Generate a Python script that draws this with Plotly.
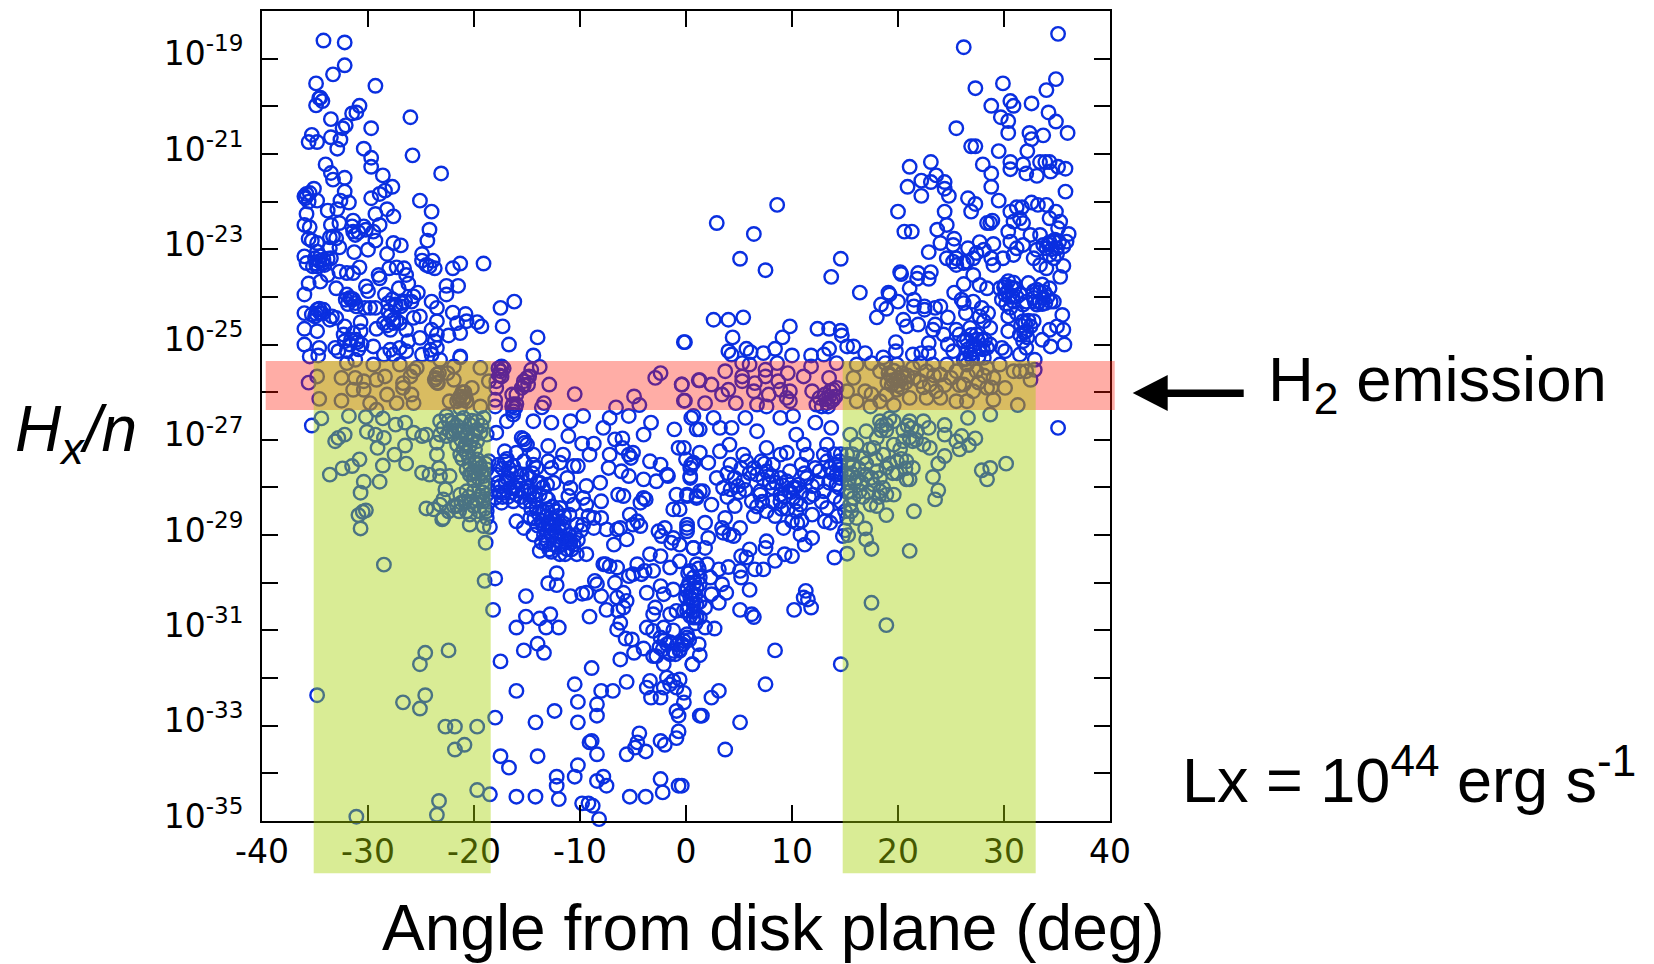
import plotly.graph_objects as go

# Each point: (angle from disk plane in deg, log10 of Hx/n).
upper_left = [(-34.2,-18.62),(-32.2,-18.66),(-32.2,-19.14),(-33.3,-19.33),(-34.9,-19.52),(-29.3,-19.57),(-34.5,-19.82),(-34.9,-19.98),(-34.3,-19.89),(-34.6,-19.83),
(-30.8,-19.99),(-31.5,-20.15),(-31.1,-20.13),(-33.5,-20.27),(-26.0,-20.23),(-32.1,-20.40),(-32.4,-20.46),(-29.7,-20.46),(-35.3,-20.60),(-35.6,-20.75),(-34.8,-20.75),(-33.5,-20.65),(-32.6,-20.70),(-32.9,-20.89),
(-30.4,-20.89),(-29.7,-21.08),(-29.7,-21.27),(-25.8,-21.03),(-34.0,-21.22),(-33.5,-21.40),(-33.3,-21.54),(-32.2,-21.50),(-23.1,-21.41),(-28.6,-21.45),(-35.1,-21.73),(-36.0,-21.89),(-35.8,-21.84),(-35.9,-21.93),(-35.5,-21.82),(-34.8,-21.98),(-35.6,-22.0),
(-32.2,-21.79),(-32.6,-21.98),(-31.8,-22.02),(-29.7,-21.93),(-28.9,-21.84),(-28.4,-21.77),(-27.7,-21.69),(-25.1,-21.98),(-24.0,-22.21),(-28.2,-22.16),(-27.6,-22.31),(-29.3,-22.26),(-35.8,-22.26),(-33.8,-22.19),(-32.9,-22.16),
(-36.0,-22.49),(-35.5,-22.54),(-33.5,-22.49),(-32.7,-22.45),(-31.4,-22.40),(-31.5,-22.52),(-28.9,-22.49),(-30.4,-22.52),(-30.2,-22.59),(-30.9,-22.64),(-29.5,-22.63),(-31.2,-22.70),(-31.4,-22.63),(-24.2,-22.59),(-24.4,-22.82),
(-33.6,-22.75),(-33.3,-22.73),(-33.0,-22.77),(-35.3,-22.82),(-35.6,-22.78),(-34.8,-22.87),(-29.3,-22.82),(-27.6,-22.87),(-26.9,-22.92),(-32.7,-22.96),(-33.6,-22.98),(-31.3,-23.06),(-30.0,-23.01),(-28.2,-23.10),
(-36.0,-23.15),(-35.8,-23.29),(-34.8,-23.05),(-35.0,-23.19),(-34.5,-23.15),(-34.2,-23.22),(-33.5,-23.19),(-34.8,-23.36),(-34.1,-23.33),(-35.2,-23.36),(-24.9,-23.10),(-24.9,-23.24),(-23.9,-23.24),(-24.5,-23.33),(-23.7,-23.40),(-24.2,-23.36),
(-22.0,-23.40),(-21.3,-23.30),(-19.1,-23.30),(-30.8,-23.38),(-32.7,-23.47),(-32.0,-23.5),(-31.4,-23.5),(-28.0,-23.40),(-27.3,-23.38),(-26.6,-23.40),(-29.0,-23.54),(-28.9,-23.61),(-26.4,-23.54),(-34.5,-23.68),(-35.6,-23.72),(-33.8,-23.54),(-33.0,-23.82),(-26.2,-23.72),
(-22.6,-23.77),(-21.5,-23.77),(-22.6,-23.95),(-27.1,-23.82),(-30.2,-23.78),(-30.0,-23.88),(-36.0,-23.95),(-32.0,-23.95),(-31.7,-24.02),(-32.1,-24.06),(-31.2,-24.13),(-31.1,-24.2),(-28.4,-23.95),(-25.3,-23.91),(-25.7,-23.99),(-24.0,-24.1),(-23.5,-24.23),(-25.9,-24.1),
(-16.2,-24.10),(-17.5,-24.23),(-17.3,-24.62),(-16.7,-25.0),(-14.0,-24.85),(-14.4,-25.23),(-22.0,-24.33),(-20.8,-24.36),(-21.6,-24.55),(-20.7,-24.51),(-19.7,-24.53),(-19.3,-24.62),(-21.3,-24.76),(-22.4,-24.81),(-29.8,-24.23),(-29.3,-24.23),(-30.3,-24.23),
(-34.8,-24.27),(-34.2,-24.27),(-36.0,-24.34),(-35.3,-24.37),(-34.5,-24.34),(-35.0,-24.41),(-33.4,-24.41),(-33.0,-24.44),(-33.6,-24.48),(-28.1,-24.13),(-27.4,-24.16),(-26.8,-24.13),(-28.1,-24.3),(-27.6,-24.48),(-28.5,-24.55),(-27.0,-24.55),(-27.9,-24.69),(-29.2,-24.67),(-25.7,-24.44),(-25.1,-24.41),(-23.5,-24.51),
(-30.7,-24.53),(-32.2,-24.62),(-36.0,-24.67),(-34.8,-24.72),(-32.3,-24.79),(-31.4,-24.76),(-30.7,-24.72),(-31.1,-24.90),(-31.7,-25.0),(-30.6,-25.0),(-32.2,-24.93),(-26.4,-24.69),(-25.1,-24.86),(-24.0,-24.69),(-23.5,-24.79),(-23.7,-24.93),(-26.2,-24.93),
(-36.0,-25.0),(-34.6,-25.07),(-35.5,-25.25),(-34.7,-25.23),(-33.1,-25.07),(-32.8,-25.14),(-32.0,-25.14),(-31.2,-25.32),(-29.5,-25.04),(-27.9,-25.11),(-27.0,-25.07),(-28.5,-25.21),(-27.6,-25.21),(-26.4,-25.14),(-24.9,-25.21),(-24.0,-25.21),(-23.5,-25.07),(-23.2,-25.32),(-24.1,-25.11),(-21.3,-25.25),(-21.3,-25.27),(-0.2,-24.95)]

band_left = [(-35.6,-25.80),(-34.8,-25.67),(-34.6,-26.14),(-32.5,-25.70),(-32.5,-26.18),(-32.0,-25.39),(-31.2,-25.70),(-31.4,-25.95),(-30.4,-25.95),(-29.5,-25.42),(-29.2,-25.74),(-28.4,-25.67),(-28.2,-26.05),(-29.8,-26.23),(-29.2,-26.37),(-30.4,-25.77),
(-27.0,-25.42),(-26.7,-25.81),(-26.0,-25.67),(-25.7,-25.56),(-25.4,-25.49),(-23.5,-25.63),(-23.7,-25.74),(-23.4,-25.81),(-21.9,-25.74),(-21.9,-25.46),(-26.7,-25.91),(-25.9,-26.05),(-25.7,-26.23),(-27.3,-26.23),
(-21.3,-26.09),(-21.0,-26.16),(-21.6,-26.19),(-20.7,-26.19),(-20.2,-25.91),(-19.4,-25.49),(-18.6,-25.77),(-22.3,-26.19),(-19.4,-26.30),(-21.3,-26.33),(-17.4,-25.46),(-17.5,-25.56),(-17.4,-25.67),(-17.9,-25.77),(-17.9,-25.91),(-18.0,-26.16),(-18.0,-26.30),
(-13.8,-25.47),(-14.6,-25.53),(-14.8,-25.67),(-15.3,-25.77),(-14.9,-25.84),(-15.5,-25.91),(-16.0,-26.05),(-16.4,-26.05),(-12.9,-25.84),(-10.5,-26.04),(-13.4,-26.23),(-13.6,-26.32),(-16.4,-26.30),(-16.1,-26.33),(-2.4,-25.60),(-2.9,-25.70),(-0.4,-25.84),(1.2,-25.75),(-4.9,-26.09),(-4.4,-26.27),(-6.6,-26.32),(-0.2,-26.18)]

lower_left = [(-35.3,-26.70),(-34.4,-26.55),(-31.8,-26.50),(-30.2,-26.52),(-28.6,-26.55),(-30.1,-26.83),(-29.3,-26.89),(-28.5,-26.96),(-32.2,-26.89),(-32.8,-26.96),(-33.1,-27.03),(-29.1,-27.17),(-26.5,-27.12),(-27.5,-27.31),(-26.4,-27.50),(-28.6,-27.54),
(-30.8,-27.41),(-31.5,-27.55),(-32.4,-27.60),(-33.6,-27.73),(-30.4,-27.88),(-28.9,-27.88),(-30.7,-28.11),(-30.2,-28.48),(-30.5,-28.51),(-30.9,-28.58),(-30.7,-28.86),(-27.4,-26.68),(-26.5,-26.64),(-25.7,-26.85),(-24.9,-26.92),(-24.5,-26.89),(-23.5,-27.31),(-24.2,-27.73),(-24.9,-27.69),(-23.3,-27.59),(-23.2,-27.76),(-22.3,-27.76),
(-23.2,-26.61),(-22.6,-26.50),(-22.0,-26.64),(-22.9,-26.75),(-22.3,-26.82),(-21.6,-26.71),(-21.0,-26.54),(-20.4,-26.68),(-19.7,-26.61),(-19.1,-26.54),(-23.2,-26.89),(-22.6,-26.92),(-22.0,-26.89),(-21.3,-26.82),(-20.7,-26.96),(-20.0,-26.89),(-19.4,-26.85),(-18.8,-26.89),(-21.6,-27.10),(-21.0,-27.20),(-20.4,-27.13),(-19.7,-27.03),(-21.3,-27.31),(-20.7,-27.27),(-23.5,-27.06),
(-19.7,-27.41),(-20.4,-27.52),(-19.4,-27.59),(-20.0,-27.66),(-18.8,-27.62),(-19.1,-27.76),(-20.4,-27.73),(-18.6,-27.45),(-19.6,-27.80),(-20.7,-27.62),
(-22.7,-28.04),(-20.7,-28.08),(-20.0,-28.08),(-19.0,-27.97),(-19.4,-28.18),(-21.3,-28.15),(-22.9,-28.25),(-21.9,-28.39),(-21.6,-28.39),(-23.2,-28.36),(-24.5,-28.44),(-23.8,-28.46),(-20.0,-28.39),(-19.1,-28.29),(-20.4,-28.57),(-18.8,-28.50),(-22.4,-28.50),(-23.0,-28.67),(-20.4,-28.78),(-19.1,-28.81),(-18.5,-28.83),(-18.8,-28.64),(-22.9,-28.64),(-21.2,-28.32),
(-18.9,-29.16),(-19.0,-29.96),(-18.0,-29.91),(-18.2,-30.57),(-28.5,-29.62),(-22.4,-31.42),(-24.6,-31.47),(-25.1,-31.71),(-34.8,-32.36),(-24.6,-32.36),(-26.7,-32.51),(-25.1,-32.64),(-22.7,-33.02),(-21.8,-33.02),(-19.7,-33.02),(-20.9,-33.40),(-21.8,-33.50),(-18.0,-32.83),(-19.7,-34.35),(-18.5,-34.44),(-23.3,-34.58),(-23.5,-34.87),(-31.1,-34.91)]

lower_middle_left = [(-17.5,-31.65),(-15.3,-31.42),(-14.0,-31.28),(-13.4,-31.47),(-16.0,-30.94),(-15.1,-30.71),(-13.8,-30.75),(-12.8,-30.66),(-13.2,-30.94),(-12.0,-30.94),(-15.1,-30.28),(-9.1,-30.71),(-10.9,-30.28),(-9.8,-30.23),(-9.4,-30.21),
(-16.0,-32.27),(-17.5,-33.64),(-16.7,-33.88),(-16.0,-34.49),(-14.2,-34.49),(-14.2,-32.93),(-14.0,-33.64),(-12.4,-32.69),(-12.2,-34.07),(-12.2,-34.26),(-12.0,-34.54),(-10.5,-32.13),(-10.2,-32.50),(-10.2,-32.93),(-8.9,-31.79),(-8.0,-32.27),(-6.9,-32.27),(-5.6,-32.08),(-8.4,-32.55),(-8.4,-32.79),(-8.9,-33.32),(-9.1,-33.35),(-8.4,-33.60),(-10.2,-33.83),(-10.5,-34.07),(-8.4,-34.16),(-7.8,-34.07),(-7.5,-34.26),(-9.8,-34.63),(-9.2,-34.63),(-8.8,-34.68),(-8.2,-34.96),
(-5.6,-33.60),(-4.4,-33.16),(-4.6,-33.35),(-4.8,-33.46),(-3.8,-33.54),(-5.3,-34.49),(-3.8,-34.49),(-2.4,-34.12),(-2.2,-34.40),(-0.7,-34.26),(-2.4,-33.32),(-2.0,-33.40),(-0.7,-33.12),(-0.9,-33.26),(-0.9,-32.69),(-0.7,-32.79),(-0.2,-32.51),(1.3,-32.79),
(-6.2,-31.61),(-4.9,-31.47),(-4.0,-31.38),(0.6,-31.71),(-5.1,-31.19),(-5.7,-31.17),(-3.4,-32.06),(-3.7,-32.20),(-3.3,-32.41),(-1.8,-31.99),(-2.4,-32.41),(-1.2,-32.06),(-0.6,-32.03),(-0.2,-32.31),(-2.1,-32.20),(-0.9,-32.20),(-1.5,-32.13),
(-3.7,-30.94),(-3.1,-31.01),(-2.4,-31.15),(-1.8,-31.29),(-1.2,-31.43),(-0.6,-31.40),(0.1,-31.08),(-2.8,-31.54),(-2.1,-31.71),(-1.5,-31.50),(-0.2,-31.22),(-3.1,-31.54),(-6.2,-30.84),(-6.5,-30.98),
(-7.5,-30.57),(-6.4,-30.59),(-5.9,-30.52),(-5.6,-30.38),(-6.5,-30.31),(-5.9,-30.21),(-8.0,-30.28),(-7.2,-29.65),(-6.7,-30.0),(-8.6,-29.96),(-8.4,-30.03),(-13.0,-30.01),(-12.2,-30.05),(-12.2,-29.80),(-5.4,-29.86),(-7.6,-29.61),(-6.5,-29.68),
(-4.6,-29.61),(-3.4,-29.40),(-2.4,-29.44),(-3.9,-29.75),(-3.1,-29.75),(-4.2,-29.82),(-5.0,-29.82),(-3.7,-30.21),(-2.4,-30.07),(-2.1,-30.24),(-2.9,-30.52),(-1.2,-30.14),(-0.9,-30.59),(-0.2,-30.59),(0.4,-30.31),(1.0,-30.45),(0.7,-29.89),(1.3,-30.03),(0.1,-30.10),(-3.1,-30.66),(-2.1,-30.94),(-1.5,-30.66),(1.0,-30.73),
(0.2,-29.8),(0.8,-30.0),(1.2,-29.7),(0.5,-30.2),(1.0,-30.1),(0.2,-30.5),(0.7,-30.6),(1.3,-30.4)]

dense_left = [(-17.9,-26.85),(-16.9,-26.61),(-16.3,-26.47),(-14.4,-26.61),(-12.7,-26.64),(-11.1,-26.92),(-10.9,-26.61),(-9.7,-26.50),(-7.2,-26.54),(-5.4,-26.50),(-3.3,-26.64),(-4.0,-26.89),(-7.8,-26.75),(-1.1,-26.78),(0.7,-26.50),(1.0,-26.78),(-0.7,-27.17),(-6.0,-26.97),(-6.7,-26.99),(-8.7,-27.08),(-9.8,-27.08),(-7.2,-27.31),(-9.1,-27.31),(-10.2,-27.55),(-7.3,-27.59),(-13.0,-27.13),(-11.6,-27.31),
(-15.3,-26.99),(-15.2,-27.06),(-15.0,-27.10),(-15.5,-26.96),(-17.1,-27.24),(-16.0,-27.27),(-14.4,-27.31),(-17.7,-27.52),(-17.1,-27.45),(-16.3,-27.55),(-15.3,-27.45),(-14.4,-27.52),(-13.0,-27.45),(-12.7,-27.59),(-11.9,-27.48),(-10.6,-27.55),
(-17.9,-27.73),(-16.9,-27.80),(-16.0,-27.69),(-15.0,-27.73),(-14.1,-27.59),(-13.8,-27.90),(-13.1,-27.94),(-12.5,-27.90),(-11.2,-27.80),(-10.9,-28.01),(-9.4,-27.97),(-8.1,-27.90),(-9.7,-28.22),(-8.0,-28.29),(-9.4,-28.36),(-11.1,-28.18),(-10.6,-28.36),(-8.7,-28.64),(-9.7,-28.78),(-8.0,-28.64),
(-17.5,-27.97),(-17.2,-28.11),(-16.6,-28.01),(-16.0,-28.15),(-15.3,-28.08),(-18.0,-28.22),(-17.4,-28.32),(-16.3,-28.29),(-14.7,-28.29),(-14.1,-28.43),(-13.5,-28.50),(-12.8,-28.64),(-12.2,-28.50),(-13.8,-28.15),(-13.0,-28.25),(-11.9,-28.43),(-11.0,-28.57),(-10.3,-28.78),(-14.7,-28.64),(-16.0,-28.71),(-15.3,-28.85),(-14.4,-28.99),(-13.5,-28.78),(-12.8,-28.92),(-11.9,-28.92),(-11.1,-29.09),(-10.6,-29.20),(-13.1,-29.13),(-13.8,-29.33),(-11.9,-29.40),(-9.4,-29.40),(-10.3,-29.40),(-8.7,-28.85),(-7.5,-28.88),(-6.5,-28.88),(-6.2,-28.85),(-5.6,-29.09),(-6.8,-29.20),(-7.8,-29.61),
(-13.2,-28.6),(-13.0,-28.8),(-12.7,-29.0),(-12.4,-28.7),(-12.2,-29.1),(-12.0,-28.8),(-11.7,-29.2),(-11.4,-28.9),(-11.2,-29.3),(-13.4,-29.0),(-13.6,-29.15),(-12.9,-29.3),(-12.5,-29.2),(-11.0,-29.0),(-10.8,-29.3),(-12.1,-28.6),(-12.6,-28.4),(-11.5,-28.6),
(-17.6,-28.1),(-17.0,-27.9),(-16.8,-28.2),(-16.5,-27.7),(-16.2,-28.0),(-15.8,-27.9),(-15.6,-28.2),(-15.0,-28.0),(-14.7,-27.8),(-14.3,-28.1),(-14.0,-27.9),(-13.5,-28.0),(-13.2,-28.2),(-17.3,-27.6),(-16.9,-27.4),
(-6.0,-27.17),(-5.4,-27.31),(-5.0,-27.27),(-5.2,-27.38),(-3.4,-27.45),(-6.1,-27.66),(-5.4,-27.76),(-4.0,-27.83),(-2.8,-27.87),(-1.7,-27.76),(-1.8,-27.73),(-2.4,-27.52),(0.0,-27.41),(0.7,-27.48),(0.4,-27.76),(0.4,-27.59),
(-6.4,-28.15),(-5.9,-28.18),(-4.0,-28.22),(-3.8,-28.25),(-4.3,-28.32),(-0.9,-28.15),(0.1,-28.15),(1.0,-28.22),(1.3,-28.08),(-1.2,-28.46),(-0.6,-28.46),(-5.3,-28.57),(-4.6,-28.71),(-4.3,-28.81),(-5.0,-28.78),(-2.0,-28.85),(-2.6,-28.92),(-2.3,-29.02),(0.1,-28.78),(0.1,-28.92),(-1.2,-29.06),(-0.6,-29.20),(-1.4,-29.16),(0.7,-29.27),(-0.6,-29.55),(-1.5,-29.68),(1.0,-29.61)]

upper_right = [(35.1,-18.48),(26.2,-18.76),(29.9,-19.52),(27.3,-19.62),(34.9,-19.43),(34.0,-19.66),(28.8,-19.99),(30.6,-19.89),(30.9,-19.99),(32.6,-19.94),(34.2,-20.13),(29.7,-20.23),(30.4,-20.31),(34.9,-20.32),(25.5,-20.46),(30.4,-20.56),(32.4,-20.56),(33.7,-20.61),(36.0,-20.56),(32.6,-20.69),
(26.9,-20.84),(27.3,-20.84),(29.5,-20.94),(32.2,-20.94),(21.1,-21.27),(23.1,-21.17),(28.0,-21.22),(30.6,-21.17),(30.6,-21.32),(31.8,-21.22),(33.4,-21.17),(33.9,-21.17),(34.3,-21.17),(35.1,-21.27),(35.8,-21.31),(34.4,-21.37),(32.1,-21.41),(33.1,-21.46),(28.8,-21.41),
(23.6,-21.45),(22.2,-21.56),(23.1,-21.59),(24.4,-21.59),(24.4,-21.73),(24.8,-21.88),(20.9,-21.69),(22.2,-21.88),(28.8,-21.69),(35.8,-21.79),(26.6,-21.93),(27.3,-22.05),(26.9,-22.21),(29.5,-21.98),(20.0,-22.21),(24.4,-22.21),
(31.2,-22.12),(31.7,-22.12),(30.6,-22.21),(32.6,-22.02),(33.2,-22.07),(34.0,-22.07),(34.9,-22.21),(34.3,-22.35),(35.3,-22.42),(35.1,-22.56),(30.9,-22.42),(31.8,-22.45),(31.5,-22.35),(28.4,-22.45),(28.7,-22.45),(28.9,-22.40),
(24.6,-22.49),(23.7,-22.59),(20.6,-22.63),(21.3,-22.63),(24.0,-22.87),(25.3,-22.78),(22.9,-23.06),(30.4,-22.63),(36.1,-22.68),(32.5,-22.70),(33.4,-22.70),(25.2,-22.91),(26.6,-22.98),(27.7,-22.85),(29.0,-22.89),
(24.6,-23.19),(25.5,-23.33),(27.1,-23.19),(26.5,-23.26),(27.4,-23.08),(28.1,-23.01),(26.2,-23.29),(25.5,-23.19),(25.2,-23.26),(29.0,-23.33),(28.8,-23.19),(29.9,-23.19),(30.6,-22.84),(31.2,-22.98),(31.8,-22.91),(30.9,-23.12),(33.1,-23.01),
(34.0,-22.98),(34.7,-22.84),(35.0,-22.98),(35.6,-22.94),(35.9,-22.84),(34.3,-23.12),(33.4,-23.33),(34.0,-23.40),(35.6,-23.35),(35.3,-23.58),(32.8,-23.19),(34.7,-23.19),(33.7,-22.91),
(20.2,-23.48),(20.3,-23.52),(21.9,-23.50),(21.8,-23.62),(21.1,-23.82),(23.1,-23.48),(22.9,-23.62),(16.4,-23.91),(14.6,-23.20),(13.7,-23.58),(8.6,-22.07),(2.9,-22.45),(6.4,-22.68),(5.1,-23.20),(7.5,-23.44),
(19.1,-23.91),(19.2,-23.95),(20.0,-24.1),(18.4,-24.16),(18.9,-24.25),(18.0,-24.43),(21.5,-24.06),(21.5,-24.20),(22.5,-24.20),(22.5,-24.27),(23.5,-24.23),(24.0,-24.20),(24.7,-24.43),
(26.2,-23.73),(27.1,-23.54),(25.3,-23.91),(26.0,-24.06),(26.2,-24.13),(27.1,-24.10),(27.7,-23.75),(28.4,-23.82),(27.9,-24.23),(28.5,-24.34),(26.4,-24.34),(27.7,-24.41),
(29.6,-23.82),(30.4,-23.67),(31.0,-23.82),(30.1,-23.95),(30.9,-24.10),(31.5,-23.95),(32.3,-23.71),(32.8,-23.88),(33.6,-23.74),(34.3,-23.82),(34.7,-24.1),(33.7,-24.02),(33.1,-24.16),(33.9,-24.13),(30.6,-24.23),(29.8,-24.06),(31.2,-24.34),(32.1,-24.1),(32.8,-24.02),(30.1,-23.75),(31.8,-24.16),
(35.5,-24.38),(35.7,-25.0),(34.4,-25.04),(35.6,-24.69),(35.0,-24.62),(34.3,-24.69),(33.6,-24.90),(30.4,-24.41),(30.4,-24.72),(31.8,-24.51),(32.5,-24.62),(32.1,-24.72),(31.5,-24.79),(31.8,-24.93),(32.8,-24.51),(32.1,-25.07),(29.8,-25.07),(30.1,-25.14),(31.5,-25.21),(32.9,-25.32),
(20.5,-24.48),(20.8,-24.62),(21.9,-24.58),(23.5,-24.58),(23.3,-24.69),(24.3,-24.79),(25.5,-24.69),(25.8,-24.79),(24.7,-25.0),(22.9,-24.97),(26.8,-24.65),(27.4,-24.79),(28.1,-24.51),(28.7,-24.65),(27.7,-25.07),(26.2,-24.93),(27.1,-25.0),(28.4,-25.07),(26.8,-25.21),(28.1,-25.28),(28.7,-25.0),(26.2,-25.32),(25.2,-25.14),
(19.8,-24.95),(19.8,-25.14),(18.6,-25.27),(21.4,-25.21),(22.2,-25.18),(22.9,-25.18),(2.6,-24.48),(4.0,-24.48),(5.4,-24.43),(9.8,-24.62),(9.1,-24.85),(4.4,-24.85),(12.4,-24.67),(13.5,-24.67),(14.6,-24.71),(14.7,-24.81),(-0.1,-24.95),
(4.0,-25.14),(4.3,-25.21),(5.7,-25.09),(6.1,-25.16),(7.3,-25.18),(8.4,-25.09),(10.0,-25.23),(11.8,-25.23),(13.5,-25.09),(13.0,-25.21),(15.2,-25.04),(15.8,-25.04),(16.9,-25.18)]

band_right = [(3.7,-25.56),(1.3,-25.75),(2.4,-25.84),(4.0,-25.95),(3.4,-26.05),(1.8,-26.23),(4.7,-26.23),(-0.1,-26.18),(-0.4,-25.84),(5.3,-25.39),(6.0,-25.42),(5.3,-25.67),(5.3,-25.77),(7.5,-25.53),(7.5,-25.67),(8.6,-25.39),(9.6,-25.60),(11.1,-25.67),(11.8,-25.46),(13.5,-25.70),(11.9,-25.98),(9.8,-25.98),(8.7,-25.77),(6.5,-25.81),(6.4,-25.98),(7.8,-26.05),(8.9,-25.95),(9.5,-26.12),(6.7,-26.26),(7.6,-26.30),(9.8,-26.19),(14.2,-25.39),
(12.3,-26.26),(12.6,-26.12),(13.1,-26.05),(13.6,-25.98),(14.1,-26.09),(13.3,-26.23),(14.2,-25.91),(12.8,-26.30),(13.7,-26.19),
(16.1,-25.42),(15.8,-25.70),(15.2,-25.98),(17.5,-25.39),(18.3,-25.56),(16.9,-25.98),(17.5,-26.04),(16.1,-26.19),(17.4,-26.30),(18.3,-26.19),(18.9,-26.05),(19.6,-26.27),(18.8,-25.39),(19.9,-25.42),
(19.1,-25.6),(19.6,-25.55),(20.0,-25.7),(20.4,-25.6),(20.7,-25.8),(19.4,-25.85),(19.9,-25.95),(20.3,-25.9),(20.9,-25.65),(19.0,-25.8),
(21.4,-25.49),(22.1,-25.39),(22.7,-25.56),(23.3,-25.42),(24.0,-25.63),(22.1,-25.77),(23.0,-25.84),(23.6,-25.98),(24.6,-25.42),(25.5,-25.56),(26.5,-25.42),(27.4,-25.56),(28.4,-25.49),(29.0,-25.70),(26.2,-25.84),(27.1,-25.98),(28.4,-25.91),(30.1,-25.91),(29.0,-26.16),(26.5,-26.19),(25.5,-26.19),(24.0,-26.12),(22.7,-26.12),(21.1,-26.12),(30.9,-25.56),(31.5,-25.56),(32.1,-25.56),(32.5,-25.74),(31.3,-26.27),(29.6,-25.42),(32.9,-25.53),
(21.5,-25.7),(22.4,-25.9),(23.4,-25.65),(24.4,-25.85),(25.0,-25.7),(25.8,-25.85),(26.6,-25.65),(27.6,-25.8),(28.1,-25.65),(28.8,-25.9)]

lower_right = [(35.1,-26.75),(30.2,-27.50),(28.7,-27.59),(27.9,-27.64),(28.4,-27.83),(28.7,-26.47),(26.6,-26.54),(27.3,-26.97),(26.0,-26.92),(25.5,-27.03),(25.8,-27.20),(26.7,-27.11),(24.4,-26.69),(24.4,-26.89),(24.4,-27.34),(23.8,-27.50),(23.3,-27.78),(23.8,-28.06),(23.5,-28.25),(21.5,-28.50),(21.1,-29.33),(18.9,-28.58),(16.9,-28.86),(17.0,-29.09),(17.5,-29.29),(15.2,-29.39),(14.0,-29.47),
(17.5,-30.42),(18.9,-30.89),(14.6,-31.71),(8.4,-31.42),(7.5,-32.13),(3.1,-32.27),(2.4,-32.41),(1.5,-32.79),(5.1,-32.93),(3.7,-33.50),(-0.4,-34.26),(10.2,-30.57),(11.8,-30.52),(11.3,-30.17),(11.1,-30.31),(11.5,-30.35),(6.4,-30.72),(6.2,-30.66),(5.1,-30.57),(6.0,-30.15),
(2.7,-30.96),(1.8,-30.94),(1.2,-31.29),(1.3,-31.52),(0.6,-31.71),(0.1,-31.15),(-0.4,-31.29),(-0.6,-31.43),(0.1,-30.17),(0.7,-30.45),(1.3,-30.73),(1.8,-30.52),(0.7,-30.73),(0.1,-30.59),(1.3,-29.89),(2.3,-29.89),(3.4,-30.03),(3.1,-30.42),(3.8,-30.21),(2.4,-30.24),(0.4,-29.75),(2.0,-29.61),
(4.0,-29.67),(3.1,-29.72),(5.1,-29.75),(5.2,-29.89),(6.5,-29.72),(7.3,-29.72),(5.2,-29.44),(6.0,-29.30),(5.7,-29.47),(8.4,-29.54),(9.3,-29.40),(10.0,-29.44),(7.6,-29.13),(7.5,-29.27),
(1.8,-28.74),(0.1,-28.85),(2.1,-29.06),(1.8,-29.27),(0.7,-29.27),(3.7,-28.64),(3.4,-28.85),(4.1,-28.99),(5.1,-28.85),(4.5,-29.02),(3.5,-28.95),
(0.1,-28.18),(1.0,-28.18),(1.6,-28.08),(2.4,-28.36),(4.6,-28.39),(6.4,-28.60),(6.2,-28.29),(7.0,-28.15),(8.9,-28.29),(7.6,-28.50),(8.4,-28.60),(9.2,-28.85),(10.4,-28.50),(10.8,-28.99),(11.9,-29.06),(11.2,-29.20),(13.1,-28.71),(13.6,-28.74),(14.8,-29.02),(11.9,-28.57),
(0.4,-27.80),(0.5,-27.52),(1.3,-27.27),(2.1,-27.48),(-0.2,-27.17),(0.5,-26.54),(1.3,-26.78),(2.6,-26.54),(3.2,-26.75),(4.3,-26.75),(5.6,-26.54),(6.7,-26.82),(8.9,-26.54),(10.1,-26.50),(12.2,-26.64),(13.7,-26.75),(10.4,-26.89),(11.1,-27.10),(3.2,-27.24),(4.1,-27.10),(7.6,-27.17),(8.9,-27.31),(9.5,-27.27),(11.4,-27.31),(13.3,-27.10),(13.0,-27.31),
(4.2,-27.52),(5.4,-27.31),(6.4,-27.59),(7.6,-27.66),(8.9,-27.80),(9.5,-27.87),(10.1,-28.01),(11.4,-27.80),(12.6,-27.66),(13.6,-27.59),(14.2,-27.73),(2.9,-27.80),(3.5,-28.01),(4.2,-28.04),(4.9,-27.97),(5.4,-27.87),(7.0,-28.08),(8.2,-28.01),(10.1,-28.22),(10.8,-28.36),(12.0,-28.15),(13.0,-28.08),(13.3,-28.43),(14.2,-27.94),(13.3,-27.45),(12.2,-27.59),(10.9,-27.52),(9.8,-27.66),(8.2,-27.52),(7.1,-27.45),(5.7,-27.45),(10.6,-27.94),(9.7,-28.08),(8.9,-28.15),(6.7,-27.73),(7.3,-27.83),(8.1,-27.76),(11.9,-27.97),(14.1,-27.52),(14.5,-27.45),(14.5,-27.62),(14.5,-27.80),
(15.5,-26.89),(16.1,-27.10),(17.0,-26.82),(18.3,-26.61),(18.9,-26.68),(18.0,-26.96),(19.6,-26.61),(21.1,-26.61),(21.8,-26.82),(22.4,-26.61),(22.9,-26.75),(15.2,-27.31),(15.8,-27.52),(16.7,-27.38),(17.7,-27.17),(18.6,-27.31),(19.6,-27.10),(20.5,-27.03),(21.4,-27.03),(22.4,-27.10),(23.0,-27.17),(15.2,-27.73),(16.1,-27.80),(17.0,-27.73),(18.0,-27.66),(18.9,-27.59),(19.9,-27.45),(20.8,-27.45),(21.4,-27.59),(20.8,-27.83),(21.1,-27.83),(15.5,-28.08),(16.4,-28.08),(17.7,-27.94),(18.6,-28.01),(19.6,-28.15),(17.4,-28.36),(18.0,-28.39),(15.5,-28.36),(15.2,-28.64),(16.1,-28.64),(15.8,-28.22),(18.3,-28.08),(18.9,-28.15),(15.0,-28.9),(15.3,-29.0),(15.0,-28.5)]

# Points packed into the darkest knots of the cloud, estimated from the density seen there.
knots_left = [(-22.4,-26.6),(-21.8,-26.8),(-21.2,-26.6),(-20.9,-26.8),(-20.2,-26.6),(-20.6,-26.9),(-19.8,-26.8),(-19.3,-26.7),(-21.2,-27.0),(-20.8,-27.1),(-20.2,-27.0),(-19.9,-27.2),(-20.5,-27.35),(-21.1,-27.4),(-19.5,-27.5),(-19.9,-27.5),(-20.2,-27.7),(-19.8,-27.7),(-19.3,-27.7),(-18.9,-27.5),(-20.0,-27.85),(-19.2,-27.9),(-20.5,-28.2),(-20.2,-28.3),(-19.7,-28.25),(-19.2,-28.1),(-18.8,-28.15),(-20.9,-28.3),(-21.4,-28.5),(-20.7,-28.5),(-19.5,-28.5),(-19.0,-28.45),(-18.6,-28.3),
(-17.7,-27.9),(-17.3,-28.2),(-16.7,-27.6),(-16.4,-28.1),(-15.9,-28.05),(-15.5,-27.75),(-15.2,-28.3),(-14.8,-28.15),(-14.5,-27.7),(-14.2,-28.25),(-13.9,-28.55),(-13.6,-28.7),(-13.3,-28.85),(-13.1,-28.45),(-12.9,-28.75),(-12.6,-28.8),(-12.3,-28.95),(-12.1,-29.25),(-11.8,-29.05),(-11.6,-28.75),(-11.3,-29.15),(-10.9,-29.15),(-10.5,-29.0),(-10.2,-29.1),(-13.2,-29.2),(-12.7,-29.35),(-11.4,-29.4),(-9.9,-28.9),(-9.2,-28.6),(-14.0,-28.8),(-14.3,-28.65),(-14.6,-28.45),
(0.3,-30.0),(0.6,-30.35),(0.9,-30.25),(0.0,-30.3),(0.4,-30.7),(0.9,-30.85),(-0.3,-31.3),(0.3,-31.2),(-0.8,-31.3),(-1.0,-31.5),(-1.5,-31.25),(-1.2,-31.0),(-2.0,-31.2),(-2.2,-31.4),(-2.5,-31.35),
(-33.8,-23.2),(-34.3,-23.3),(-34.6,-23.25),(-34.9,-23.3),(-34.3,-24.35),(-34.6,-24.25),(-34.9,-24.35),(-31.6,-24.05),(-31.9,-24.15),(-31.4,-24.05),(-31.6,-24.9),(-31.0,-24.95),(-30.9,-25.1),(-27.9,-24.4),(-27.6,-24.55),(-28.2,-24.6),(-27.3,-24.5),(-27.4,-24.2),(-27.7,-24.05),(-26.9,-24.2),(-26.5,-24.1),
(-22.5,-25.6),(-23.3,-25.6),(-23.6,-25.7),(-23.5,-25.8),(-20.9,-26.0),(-21.1,-26.0),(-20.8,-26.1),(-21.4,-26.15),(-17.7,-25.5),(-17.2,-25.5),(-17.6,-25.65),(-16.3,-26.25),(-16.0,-26.25),(-16.3,-26.4),(-15.0,-25.7),(-15.3,-25.85)]

knots_right = [(3.9,-27.7),(4.6,-27.8),(5.2,-27.6),(6.0,-27.7),(7.4,-27.5),(7.9,-27.9),(8.5,-27.9),(9.1,-27.95),(9.3,-28.2),(9.9,-28.1),(10.3,-28.0),(10.4,-28.3),(10.9,-28.1),(11.2,-27.7),(11.6,-28.2),(12.4,-27.9),(12.8,-28.3),(13.5,-27.9),(13.8,-27.7),(14.0,-28.2),(14.4,-28.0),(14.6,-27.7),(14.6,-27.3),(14.0,-27.3),(14.6,-28.3),(14.3,-28.6),(9.6,-28.45),(9.0,-28.45),(10.0,-28.7),(10.5,-28.75),(10.9,-28.7),(8.2,-28.3),(7.2,-28.3),(6.7,-28.4),(3.9,-28.2),(5.0,-28.1),(5.6,-28.05),
(15.3,-27.5),(15.6,-27.7),(15.3,-27.9),(15.7,-27.3),(15.2,-28.1),(15.6,-28.5),(15.9,-27.9),(16.3,-27.6),(16.6,-27.9),(17.0,-27.5),(17.3,-27.2),(17.5,-27.8),(17.9,-27.4),(18.3,-27.8),(18.5,-26.7),(18.9,-26.8),(19.2,-26.55),(18.4,-26.8),(19.2,-27.5),(19.5,-27.7),(19.9,-27.7),(20.2,-27.2),(20.5,-26.8),(20.9,-26.7),(21.3,-26.75),(21.1,-26.95),(21.7,-27.0),(20.3,-27.4),(20.7,-27.6),(16.7,-28.2),(17.2,-28.1),(18.2,-28.2),
(26.5,-24.9),(26.9,-24.8),(27.2,-25.1),(27.5,-24.9),(27.9,-24.9),(27.0,-25.3),(27.6,-25.25),(26.6,-25.1),(28.2,-24.9),(28.0,-25.1),(26.4,-25.3),(30.0,-23.8),(30.3,-23.9),(30.7,-23.8),(30.5,-24.0),(30.8,-24.0),(30.2,-24.15),(30.9,-23.7),(31.2,-24.0),(33.1,-23.85),(33.4,-23.9),(33.8,-23.9),(33.3,-24.1),(33.6,-24.15),(34.1,-24.0),(34.4,-24.1),(32.9,-24.1),(34.2,-22.9),(34.5,-23.0),(34.8,-22.8),(34.3,-22.85),(35.2,-22.85),(35.0,-23.1),(31.6,-24.6),(32.0,-24.55),(32.2,-24.85),(31.9,-24.75),(32.3,-24.5),
(13.2,-26.15),(13.5,-26.1),(13.9,-26.15),(13.4,-26.3),(13.9,-25.95),(19.3,-25.65),(19.8,-25.75),(20.2,-25.75),(19.5,-25.75),(20.0,-25.85),(20.6,-25.7)]

x_ticks = [-40, -30, -20, -10, 0, 10, 20, 30, 40]
x_tick_labels = ["-40", "-30", "-20", "-10", "0", "10", "20", "30", "40"]
y_decades = list(range(-35, -18))
y_tick_labels = {-19: "10<sup>-19</sup>", -21: "10<sup>-21</sup>", -23: "10<sup>-23</sup>", -25: "10<sup>-25</sup>",
                 -27: "10<sup>-27</sup>", -29: "10<sup>-29</sup>", -31: "10<sup>-31</sup>", -33: "10<sup>-33</sup>", -35: "10<sup>-35</sup>"}

W, H = 1654, 964
L, R, T, B = 262.3, 1110.3, 9.3, 820.7
BLUE = "#0a2fe0"
SANS = "Liberation Sans, Arial, sans-serif"

def px(v):
    return (v - L) / (R - L)

def py(v):
    return (B - v) / (B - T)

points = upper_left + band_left + lower_left + lower_middle_left + dense_left + upper_right + band_right + lower_right + knots_left + knots_right
angle = [p[0] for p in points]
hx_over_n = [10.0 ** p[1] for p in points]

fig = go.Figure(go.Scatter(
    x=angle, y=hx_over_n, mode="markers", cliponaxis=False,
    marker=dict(symbol="circle-open", size=13.5, color=BLUE, line=dict(color=BLUE, width=2.4)),
    showlegend=False,
))

def band(x0, x1, y0, y1, color):
    return dict(type="rect", xref="paper", yref="paper", x0=px(x0), x1=px(x1), y0=py(y1), y1=py(y0),
                fillcolor=color, line=dict(width=0), layer="above")

RED = "rgba(255,20,0,0.35)"
GREEN = "rgba(164,210,2,0.42)"
shapes = [
    band(266, 1115, 360, 409, RED),
    band(314, 491, 360, 873, GREEN),
    band(843, 1036, 360, 873, GREEN),
    band(1166, 1244, 388.5, 396, "black"),
    dict(type="path", xref="paper", yref="paper", fillcolor="black", line=dict(width=0), layer="above",
         path=f"M {px(1133)} {py(392)} L {px(1168)} {py(374)} L {px(1168)} {py(410)} Z"),
]

def note(text, x, y, size, anchor="left"):
    return dict(text=text, xref="paper", yref="paper", x=px(x), y=py(y), xanchor=anchor, yanchor="middle",
                showarrow=False, font=dict(family=SANS, size=size, color="black"))

annotations = [
    note("Angle from disk plane (deg)", 774, 928, 64, "center"),
    note("<i>H<sub>x</sub>/n</i>", 13, 432, 64),
    note("H<sub>2</sub> emission", 1266, 382, 63.5),
    note("Lx = 10<sup>44</sup> erg s<sup>-1</sup>", 1180, 775, 63),
]

fig.update_layout(
    width=W, height=H, autosize=False, paper_bgcolor="white", plot_bgcolor="white",
    margin=dict(l=L, r=W - R, t=T, b=H - B, pad=0),
    shapes=shapes, annotations=annotations,
    font=dict(family="DejaVu Sans", color="black"),
    xaxis=dict(range=[-40, 40], tickmode="array", tickvals=x_ticks, ticktext=x_tick_labels,
               ticks="inside", ticklen=16, tickwidth=1.5, tickcolor="black",
               showline=True, linecolor="black", linewidth=2, mirror="ticks", showgrid=False, zeroline=False,
               tickfont=dict(family="DejaVu Sans", size=33)),
    yaxis=dict(type="log", range=[-35, -18], tickmode="array",
               tickvals=[10.0 ** d for d in y_decades],
               ticktext=[y_tick_labels.get(d, "") for d in y_decades],
               ticks="inside", ticklen=16, tickwidth=1.5, tickcolor="black",
               showline=True, linecolor="black", linewidth=2, mirror="ticks", showgrid=False, zeroline=False,
               ticklabelstandoff=10, ticklabelshift=-5,
               tickfont=dict(family="DejaVu Sans", size=33)),
)

fig.write_html("out.html", config={"displayModeBar": False},
               post_script="document.body.style.margin='0';document.body.style.overflow='hidden';")
